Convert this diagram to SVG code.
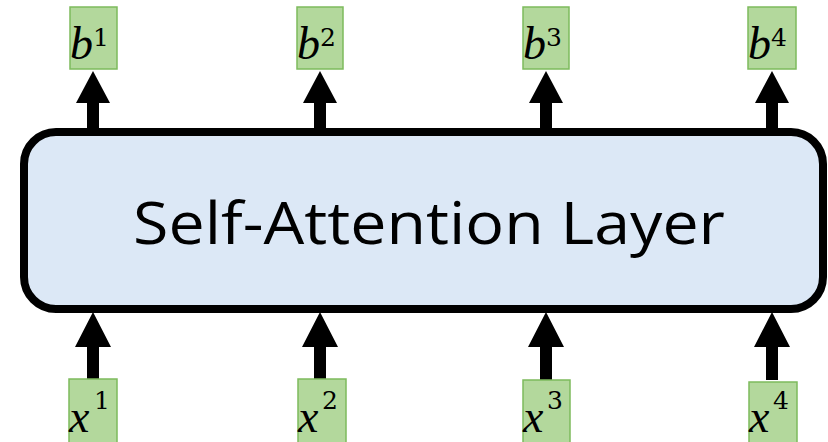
<svg xmlns="http://www.w3.org/2000/svg" width="828" height="442" viewBox="0 0 828 442">
<defs>
<style>
.lbl{fill:#b3d89c;stroke:#7dbb5c;stroke-width:1.5}
.m{font-family:"Liberation Serif",serif;font-style:italic;font-size:46px;fill:#000}
.s{font-family:"DejaVu Serif",serif;font-size:25px;fill:#000}
.arr{fill:#000}
.title{font-family:"Open Sans","Noto Sans",sans-serif;font-size:58px;fill:#000}
</style>
</defs>
<rect width="828" height="442" fill="#fff"/>
<g id="connectors">
<path class="arr" d="M87 130 V103 H76 L93 71 L110 103 H99 V130 Z"/>
<path class="arr" d="M314 130 V103 H303 L320 71 L337 103 H326 V130 Z"/>
<path class="arr" d="M540 130 V103 H529 L546 71 L563 103 H552 V130 Z"/>
<path class="arr" d="M766 130 V103 H755 L772 71 L789 103 H778 V130 Z"/>
<path class="arr" d="M87 380 V347 H75 L93 312 L111 347 H99 V380 Z"/>
<path class="arr" d="M314 380 V347 H302 L320 312 L338 347 H326 V380 Z"/>
<path class="arr" d="M540 380 V347 H528 L546 312 L564 347 H552 V380 Z"/>
<path class="arr" d="M766 380 V347 H754 L772 312 L790 347 H778 V380 Z"/>
</g>
<g id="layer">
<rect x="24" y="132" width="799" height="177" rx="32" ry="32" fill="#dce8f6" stroke="#000" stroke-width="8"/>
<text class="title" x="429" y="244" text-anchor="middle" textLength="592" lengthAdjust="spacingAndGlyphs">Self-Attention Layer</text>
</g>
<g id="b1"><rect class="lbl" x="70" y="7" width="47" height="62"/><text class="m" x="70" y="59">b</text><text class="s" x="93" y="46">1</text></g>
<g id="b2"><rect class="lbl" x="297" y="7" width="46" height="62"/><text class="m" x="297" y="59">b</text><text class="s" x="320" y="46">2</text></g>
<g id="b3"><rect class="lbl" x="523" y="7" width="46" height="62"/><text class="m" x="523" y="59">b</text><text class="s" x="546" y="46">3</text></g>
<g id="b4"><rect class="lbl" x="748" y="7" width="48" height="62"/><text class="m" x="748" y="59">b</text><text class="s" x="771" y="46">4</text></g>
<g id="x1"><rect class="lbl" x="69" y="379" width="48" height="70"/><text class="m" x="69" y="432">x</text><text class="s" x="94" y="409">1</text></g>
<g id="x2"><rect class="lbl" x="298" y="379" width="48" height="70"/><text class="m" x="298" y="432">x</text><text class="s" x="322" y="409">2</text></g>
<g id="x3"><rect class="lbl" x="523" y="380" width="47" height="70"/><text class="m" x="523" y="432">x</text><text class="s" x="547" y="409">3</text></g>
<g id="x4"><rect class="lbl" x="749" y="382" width="48" height="70"/><text class="m" x="749" y="432">x</text><text class="s" x="773" y="409">4</text></g>
</svg>
